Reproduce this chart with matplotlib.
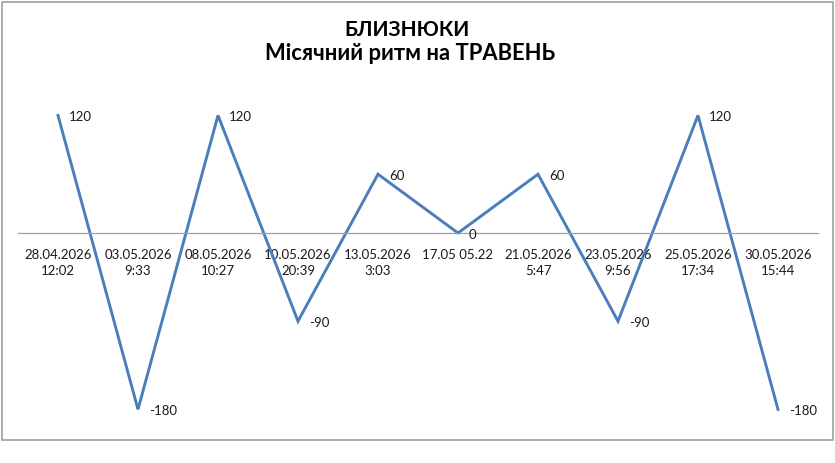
import matplotlib
matplotlib.use("Agg")
import matplotlib.pyplot as plt
from matplotlib.patches import Rectangle

categories = ["28.04.2026\n12:02", "03.05.2026\n9:33", "08.05.2026\n10:27",
              "10.05.2026\n20:39", "13.05.2026\n3:03", "17.05 05.22",
              "21.05.2026\n5:47", "23.05.2026\n9:56", "25.05.2026\n17:34",
              "30.05.2026\n15:44"]
values = [120, -180, 120, -90, 60, 0, 60, -90, 120, -180]
title_line1 = "БЛИЗНЮКИ"
title_line2 = "Місячний ритм на ТРАВЕНЬ"

FONT = ["Lato", "DejaVu Sans"]
W, H = 835, 463
fig = plt.figure(figsize=(W / 100, H / 100), dpi=100)
fig.patch.set_facecolor("white")

# outer frame
fig.patches.append(Rectangle((1.5 / W, 1 - 440 / H), (832.5 - 1.5) / W, (440 - 1.5) / H,
                             transform=fig.transFigure, fill=False,
                             edgecolor="#A0A0A0", linewidth=1.2))

ax = fig.add_axes([18 / W, 1 - 429 / H, 800 / W, (429 - 86) / H])
x = list(range(len(values)))
ax.plot(x, values, color="#4A7EBB", linewidth=2.1, solid_joinstyle="miter")
ax.set_xlim(-0.5, len(values) - 0.5)
ax.set_ylim(-200, 150)

for s in ["top", "right", "left"]:
    ax.spines[s].set_visible(False)
ax.spines["bottom"].set_position(("data", 0))
ax.spines["bottom"].set_color("#A0A0A0")
ax.spines["bottom"].set_linewidth(0.9)
ax.set_yticks([])
ax.set_xticks(x)
ax.set_xticklabels(categories, fontsize=9.5, family=FONT, color="#1a1a1a",
                   linespacing=1.4)
ax.tick_params(axis="x", length=0, pad=11.5)
ax.set_facecolor("none")

for xi, v in zip(x, values):
    ax.annotate(str(v), (xi, v), xytext=(8, -1.5), textcoords="offset points",
                ha="left", va="center", fontsize=9.5, family=FONT, color="#1a1a1a")

fig.text(407 / W, 1 - 35.7 / H, title_line1, ha="center", va="baseline",
         fontsize=15, fontweight="bold", family=FONT)
fig.text(410 / W, 1 - 60 / H, title_line2, ha="center", va="baseline",
         fontsize=15.8, fontweight="bold", family=FONT)

fig.savefig("out.png", dpi=100, facecolor="white")
